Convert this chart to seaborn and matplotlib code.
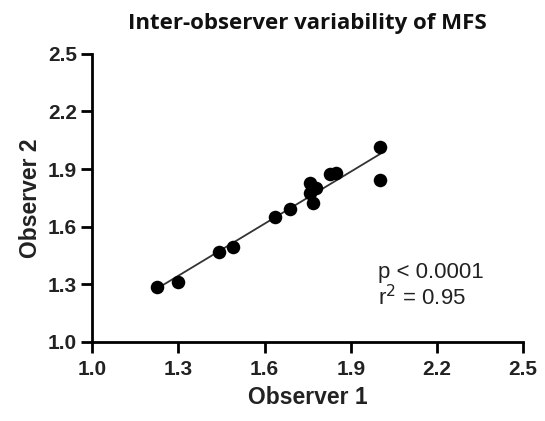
import matplotlib
matplotlib.use("Agg")
import matplotlib.pyplot as plt
import seaborn as sns
import pandas as pd

observer1 = [1.227, 1.30, 1.44, 1.49, 1.637, 1.689, 1.759, 1.78, 1.759, 1.770, 1.828, 1.85, 2.002, 2.002]
observer2 = [1.285, 1.314, 1.470, 1.493, 1.649, 1.693, 1.826, 1.80, 1.774, 1.722, 1.873, 1.882, 2.014, 1.844]
ticks = [1.0, 1.3, 1.6, 1.9, 2.2, 2.5]
tick_labels = ["1.0", "1.3", "1.6", "1.9", "2.2", "2.5"]

df = pd.DataFrame({"Observer 1": observer1, "Observer 2": observer2})

sns.set_style("ticks")
plt.rcParams['font.family'] = ['Liberation Sans', 'DejaVu Sans']

fig = plt.figure(figsize=(5.45, 4.21), dpi=100)
ax = fig.add_axes([0.169, 0.188, 0.791, 0.684])

sns.regplot(data=df, x="Observer 1", y="Observer 2", ax=ax, ci=None, truncate=True,
            color="black", scatter_kws=dict(s=95, alpha=1, linewidths=0, zorder=3),
            line_kws=dict(color="#333333", lw=1.3, zorder=2))

ax.set_xlim(1.0, 2.5)
ax.set_ylim(1.0, 2.5)
ax.set_xticks(ticks)
ax.set_xticklabels(tick_labels, fontsize=15, fontweight="bold", color="#222222")
ax.set_yticks(ticks)
ax.set_yticklabels(tick_labels, fontsize=15, fontweight="bold", color="#222222")
ax.tick_params(direction="out", length=8, width=2, color="black")
ax.tick_params(axis="x", pad=5)
ax.tick_params(axis="y", pad=3)
for s in ["left", "bottom"]:
    ax.spines[s].set_linewidth(2)
    ax.spines[s].set_color("black")
sns.despine(ax=ax)

ax.set_xlabel("Observer 1", fontsize=16.5, fontweight="bold", labelpad=5, color="#222222")
ax.set_ylabel("Observer 2", fontsize=16.5, fontweight="bold", labelpad=4, color="#222222")
ax.set_title("Inter-observer variability of MFS", fontsize=16, fontweight="bold",
             family=["Open Sans", "DejaVu Sans"], pad=18, color="#111111")

ax.text(1.995, 1.29, "p < 0.0001\nr$^2$ = 0.95", fontsize=16, ha="left", va="center",
        linespacing=1.1, color="#222222")

fig.savefig("out.png", dpi=100)
